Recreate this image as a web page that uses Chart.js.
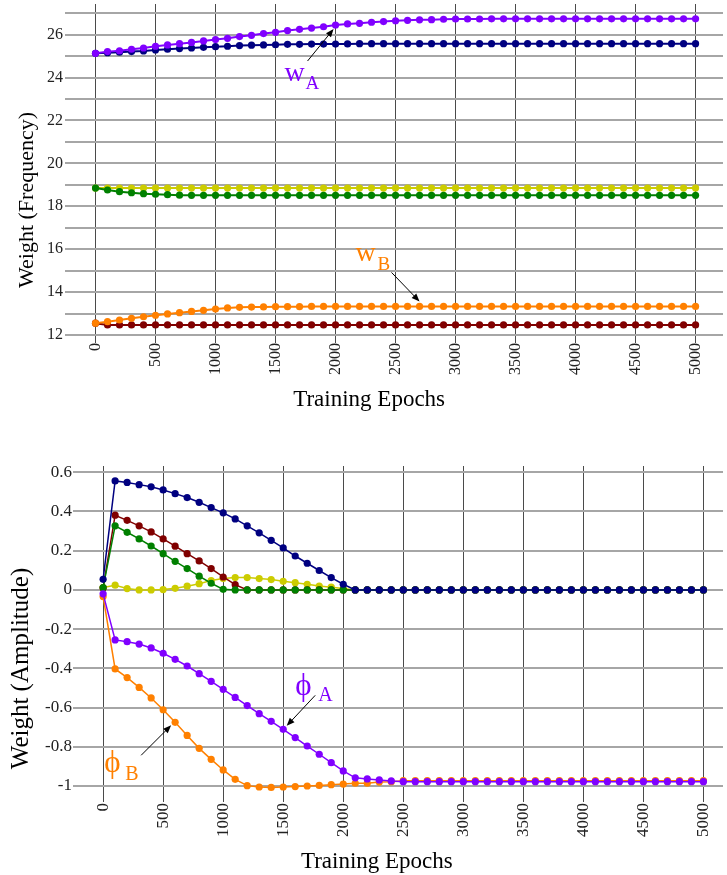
<!DOCTYPE html>
<html>
<head>
<meta charset="utf-8">
<script src="https://cdn.jsdelivr.net/npm/chart.js@4.4.1/dist/chart.umd.min.js"></script>
<style>
  html, body { margin:0; padding:0; background:#fff; }
  .box { position:absolute; left:0; width:727px; }
</style>
</head>
<body>
<div class="box" style="top:0;height:430px"><canvas id="c1"></canvas></div>
<div class="box" style="top:430px;height:445px"><canvas id="c2"></canvas></div>
<script>
// ---------- data ----------
const epochs = [0,100,200,300,400,500,600,700,800,900,
  1000,1100,1200,1300,1400,1500,1600,1700,1800,1900,
  2000,2100,2200,2300,2400,2500,2600,2700,2800,2900,
  3000,3100,3200,3300,3400,3500,3600,3700,3800,3900,
  4000,4100,4200,4300,4400,4500,4600,4700,4800,4900,5000];

const xTickValues = [0,500,1000,1500,2000,2500,3000,3500,4000,4500,5000];
const freqTickValues = [12,13,14,15,16,17,18,19,20,21,22,23,24,25,26,27];
const ampTickValues = [-1,-0.8,-0.6,-0.4,-0.2,0,0.2,0.4,0.6];

// top panel: Weight (Frequency)
const freqWA = [25.13,25.21,25.25,25.32,25.38,25.46,25.52,25.58,25.64,25.71,
  25.77,25.83,25.91,25.97,26.05,26.11,26.19,26.25,26.31,26.37,
  26.45,26.50,26.53,26.58,26.61,26.65,26.67,26.69,26.70,26.72,
  26.73,26.73,26.73,26.74,26.74,26.74,26.74,26.74,26.74,26.74,
  26.74,26.74,26.74,26.74,26.74,26.74,26.74,26.74,26.74,26.74,26.74];
const freqNavy = [25.13,25.16,25.18,25.21,25.24,25.29,25.32,25.35,25.38,25.41,
  25.44,25.46,25.49,25.51,25.52,25.53,25.55,25.55,25.56,25.56,
  25.56,25.57,25.58,25.58,25.58,25.58,25.58,25.58,25.58,25.58,
  25.58,25.58,25.58,25.58,25.58,25.58,25.58,25.58,25.58,25.58,
  25.58,25.58,25.58,25.58,25.58,25.58,25.58,25.58,25.58,25.58,25.58];
const freqYellow = [18.85,18.85,18.85,18.85,18.85,18.85,18.85,18.85,18.85,18.85,
  18.85,18.85,18.85,18.85,18.85,18.85,18.85,18.85,18.85,18.85,
  18.85,18.85,18.85,18.85,18.85,18.85,18.85,18.85,18.85,18.85,
  18.85,18.85,18.85,18.85,18.85,18.85,18.85,18.85,18.85,18.85,
  18.85,18.85,18.85,18.85,18.85,18.85,18.85,18.85,18.85,18.85,18.85];
const freqGreen = [18.85,18.76,18.68,18.63,18.59,18.56,18.54,18.52,18.51,18.51,
  18.51,18.51,18.51,18.51,18.51,18.51,18.51,18.51,18.51,18.51,
  18.51,18.51,18.51,18.51,18.51,18.51,18.51,18.51,18.51,18.51,
  18.51,18.51,18.51,18.51,18.51,18.51,18.51,18.51,18.51,18.51,
  18.51,18.51,18.51,18.51,18.51,18.51,18.51,18.51,18.51,18.51,18.51];
const freqWB = [12.55,12.62,12.70,12.78,12.85,12.92,12.98,13.04,13.10,13.15,
  13.21,13.26,13.29,13.30,13.31,13.32,13.32,13.32,13.33,13.33,
  13.33,13.33,13.33,13.33,13.33,13.33,13.33,13.33,13.33,13.33,
  13.33,13.33,13.33,13.33,13.33,13.33,13.33,13.33,13.33,13.33,
  13.33,13.33,13.33,13.33,13.33,13.33,13.33,13.33,13.33,13.33,13.33];
const freqDarkRed = [12.55,12.47,12.47,12.47,12.47,12.47,12.47,12.47,12.47,12.47,
  12.47,12.47,12.47,12.47,12.47,12.47,12.47,12.47,12.47,12.47,
  12.47,12.47,12.47,12.47,12.47,12.47,12.47,12.47,12.47,12.47,
  12.47,12.47,12.47,12.47,12.47,12.47,12.47,12.47,12.47,12.47,
  12.47,12.47,12.47,12.47,12.47,12.47,12.47,12.47,12.47,12.47,12.47];

// bottom panel: Weight (Amplitude)
const ampNavy = [0.054,0.556,0.548,0.537,0.526,0.510,0.491,0.471,0.447,0.420,
  0.393,0.362,0.327,0.291,0.253,0.214,0.173,0.136,0.099,0.063,
  0.029,0,0,0,0,0,0,0,0,0,
  0,0,0,0,0,0,0,0,0,0,
  0,0,0,0,0,0,0,0,0,0,0];
const ampDarkRed = [0.010,0.381,0.355,0.327,0.296,0.260,0.223,0.185,0.148,0.109,
  0.066,0.027,0,0,0,0,0,0,0,0,
  0,0,0,0,0,0,0,0,0,0,
  0,0,0,0,0,0,0,0,0,0,
  0,0,0,0,0,0,0,0,0,0,0];
const ampGreen = [0.012,0.327,0.294,0.260,0.224,0.185,0.146,0.109,0.070,0.034,
  0.003,0,0,0,0,0,0,0,0,0,
  0,0,0,0,0,0,0,0,0,0,
  0,0,0,0,0,0,0,0,0,0,
  0,0,0,0,0,0,0,0,0,0,0];
const ampYellow = [0.012,0.024,0.007,0,0,0.002,0.008,0.019,0.032,0.048,
  0.058,0.063,0.063,0.058,0.053,0.044,0.037,0.029,0.020,0.014,
  0.007,0,0,0,0,0,0,0,0,0,
  0,0,0,0,0,0,0,0,0,0,
  0,0,0,0,0,0,0,0,0,0,0];
const ampPhiA = [-0.020,-0.255,-0.264,-0.276,-0.296,-0.323,-0.354,-0.388,-0.427,-0.466,
  -0.507,-0.548,-0.590,-0.631,-0.670,-0.711,-0.753,-0.796,-0.838,-0.881,
  -0.923,-0.958,-0.964,-0.969,-0.974,-0.978,-0.978,-0.978,-0.978,-0.978,
  -0.978,-0.978,-0.978,-0.978,-0.978,-0.978,-0.978,-0.978,-0.978,-0.978,
  -0.978,-0.978,-0.978,-0.978,-0.978,-0.978,-0.978,-0.978,-0.978,-0.978,-0.978];
const ampPhiB = [-0.034,-0.403,-0.447,-0.497,-0.551,-0.611,-0.675,-0.742,-0.808,-0.864,
  -0.918,-0.966,-0.998,-1.005,-1.007,-1.005,-1.003,-1.000,-0.997,-0.993,
  -0.990,-0.986,-0.986,-0.980,-0.978,-0.973,-0.973,-0.973,-0.973,-0.973,
  -0.973,-0.973,-0.973,-0.973,-0.973,-0.973,-0.973,-0.973,-0.973,-0.973,
  -0.973,-0.973,-0.973,-0.973,-0.973,-0.973,-0.973,-0.973,-0.973,-0.973,-0.973];

// ---------- styling ----------
const C = { purple:'#8000ff', navy:'#000080', yellow:'#cccc00', green:'#008000', orange:'#ff8000', darkred:'#800000' };
const SERIF = "'Liberation Serif', 'DejaVu Serif', serif";

function pts(arr){ return epochs.map((e,i)=>({x:e, y:arr[i]})); }
function ds(arr, color, bw){
  return { data: pts(arr), borderColor: color, backgroundColor: color, pointBackgroundColor: color,
    pointBorderColor: color, pointBorderWidth: 0, pointRadius: 3.6, borderWidth: bw, tension: 0 };
}

function arrow(ctx, x1, y1, x2, y2){
  const a = Math.atan2(y2-y1, x2-x1), L = 8, W = 3.2;
  ctx.save();
  ctx.strokeStyle = '#000'; ctx.fillStyle = '#000'; ctx.lineWidth = 1;
  ctx.beginPath(); ctx.moveTo(x1,y1);
  ctx.lineTo(x2 - Math.cos(a)*L*0.8, y2 - Math.sin(a)*L*0.8); ctx.stroke();
  ctx.beginPath(); ctx.moveTo(x2,y2);
  ctx.lineTo(x2 - Math.cos(a)*L + Math.sin(a)*W, y2 - Math.sin(a)*L - Math.cos(a)*W);
  ctx.lineTo(x2 - Math.cos(a)*L - Math.sin(a)*W, y2 - Math.sin(a)*L + Math.cos(a)*W);
  ctx.closePath(); ctx.fill();
  ctx.restore();
}
function subText(ctx, main, sub, x, base, mainSize, subSize, subDx, subDy, color){
  ctx.save();
  ctx.fillStyle = color; ctx.textAlign = 'left'; ctx.textBaseline = 'alphabetic';
  ctx.font = mainSize + 'px ' + SERIF; ctx.fillText(main, x, base);
  ctx.font = subSize + 'px ' + SERIF; ctx.fillText(sub, x + subDx, base + subDy);
  ctx.restore();
}
function titles(ctx, xt, xx, xb, xs, yt, yx, yy, ys){
  ctx.save(); ctx.fillStyle = '#000'; ctx.textBaseline = 'alphabetic'; ctx.textAlign = 'center';
  ctx.font = xs + 'px ' + SERIF; ctx.fillText(xt, xx, xb);
  ctx.translate(yx, yy); ctx.rotate(-Math.PI/2);
  ctx.font = ys + 'px ' + SERIF; ctx.fillText(yt, 0, 0);
  ctx.restore();
}

function scales(o){
  return {
    x: { type:'linear', min:o.xmin, max:o.xmax,
      afterBuildTicks: s => { s.ticks = xTickValues.map(v => ({value:v})); },
      afterFit: s => { s.height = o.xh; s.paddingLeft = 0; s.paddingRight = 0; },
      grid: { color:'#4a4a4a', lineWidth:1, drawTicks:true, tickLength:5, tickColor:'#4a4a4a' },
      border: { display:false },
      ticks: { autoSkip:false, minRotation:90, maxRotation:90, padding:o.xpad,
        color:'#222', font:{ family:SERIF, size:o.tickSize }, callback: v => String(v) } },
    y: { type:'linear', min:o.ymin, max:o.ymax,
      afterBuildTicks: s => { s.ticks = o.yticks.map(v => ({value:v})); },
      afterFit: s => { s.width = o.yw; s.paddingTop = 0; s.paddingBottom = 0; },
      grid: { color:'#a6a6a6', lineWidth:2, drawTicks:false },
      border: { display:false },
      ticks: { padding:o.ypad, color:'#222', font:{ family:SERIF, size:o.tickSize }, callback:o.ycb } }
  };
}

// ---------- top chart ----------
new Chart(document.getElementById('c1'), {
  type:'line',
  data:{ datasets:[
    ds(freqWA, C.purple, 2), ds(freqNavy, C.navy, 2), ds(freqGreen, C.green, 2),
    ds(freqYellow, C.yellow, 2), ds(freqWB, C.orange, 2), ds(freqDarkRed, C.darkred, 2)
  ]},
  options:{
    responsive:true, maintainAspectRatio:false, animation:false, devicePixelRatio:1,
    layout:{ padding:{ top:4, left:0, right:0, bottom:0 } },
    plugins:{ legend:{display:false}, tooltip:{enabled:false} },
    scales: scales({ xmin:-254.3, xmax:5228.6, xh:92, xpad:0, ymin:11.86, ymax:27.43, yw:65, ypad:2,
      yticks:freqTickValues, tickSize:16, ycb: v => (v % 2 === 0 ? String(v) : '') })
  },
  plugins:[{ id:'annTop', afterDraw(chart){
    const ctx = chart.ctx, xs = chart.scales.x, ys = chart.scales.y;
    titles(ctx, 'Training Epochs', xs.getPixelForValue(2280), 406, 23, 'Weight (Frequency)', 33, 200, 22);
    // w_A
    const pA = { x: xs.getPixelForValue(epochs[20]), y: ys.getPixelForValue(freqWA[20]) };
    arrow(ctx, pA.x - 28, pA.y + 36, pA.x - 2, pA.y + 4);
    subText(ctx, 'w', 'A', pA.x - 51, pA.y + 56, 28, 19, 21, 8, C.purple);
    // w_B
    const pB = { x: xs.getPixelForValue(epochs[27]), y: ys.getPixelForValue(freqWB[27]) };
    arrow(ctx, pB.x - 28, pB.y - 34, pB.x, pB.y - 5);
    subText(ctx, 'w', 'B', pB.x - 64, pB.y - 45, 28, 19, 22, 9, C.orange);
  }}]
});

// ---------- bottom chart ----------
new Chart(document.getElementById('c2'), {
  type:'line',
  data:{ datasets:[
    ds(ampNavy, C.navy, 1.5), ds(ampPhiA, C.purple, 1.5), ds(ampPhiB, C.orange, 1.5),
    ds(ampGreen, C.green, 1.5), ds(ampDarkRed, C.darkred, 1.5), ds(ampYellow, C.yellow, 1.5)
  ]},
  options:{
    responsive:true, maintainAspectRatio:false, animation:false, devicePixelRatio:1,
    layout:{ padding:{ top:36, left:0, right:0, bottom:0 } },
    plugins:{ legend:{display:false}, tooltip:{enabled:false} },
    scales: scales({ xmin:-250.8, xmax:5163, xh:78, xpad:1, ymin:-1.056, ymax:0.632, yw:73, ypad:1,
      yticks:ampTickValues, tickSize:17, ycb: v => { const r = Math.round(v*10)/10; return r === 0 ? '0' : String(r); } })
  },
  plugins:[{ id:'annBot', afterDraw(chart){
    const ctx = chart.ctx, xs = chart.scales.x, ys = chart.scales.y;
    titles(ctx, 'Training Epochs', xs.getPixelForValue(2280), 437.7, 23, 'Weight (Amplitude)', 28, 238.5, 25);
    // phi_A
    const pA = { x: xs.getPixelForValue(epochs[15]), y: ys.getPixelForValue(ampPhiA[15]) };
    arrow(ctx, pA.x + 32, pA.y - 34, pA.x + 3.5, pA.y - 3.5);
    subText(ctx, '\u03D5', 'A', pA.x + 12, pA.y - 34, 31, 20, 23, 6, C.purple);
    // phi_B
    const pB = { x: xs.getPixelForValue(epochs[6]), y: ys.getPixelForValue(ampPhiB[6]) };
    arrow(ctx, pB.x - 34, pB.y + 33, pB.x - 4, pB.y + 3);
    subText(ctx, '\u03D5', 'B', pB.x - 71, pB.y + 50, 31, 20, 21, 8, C.orange);
  }}]
});
</script>
</body>
</html>
